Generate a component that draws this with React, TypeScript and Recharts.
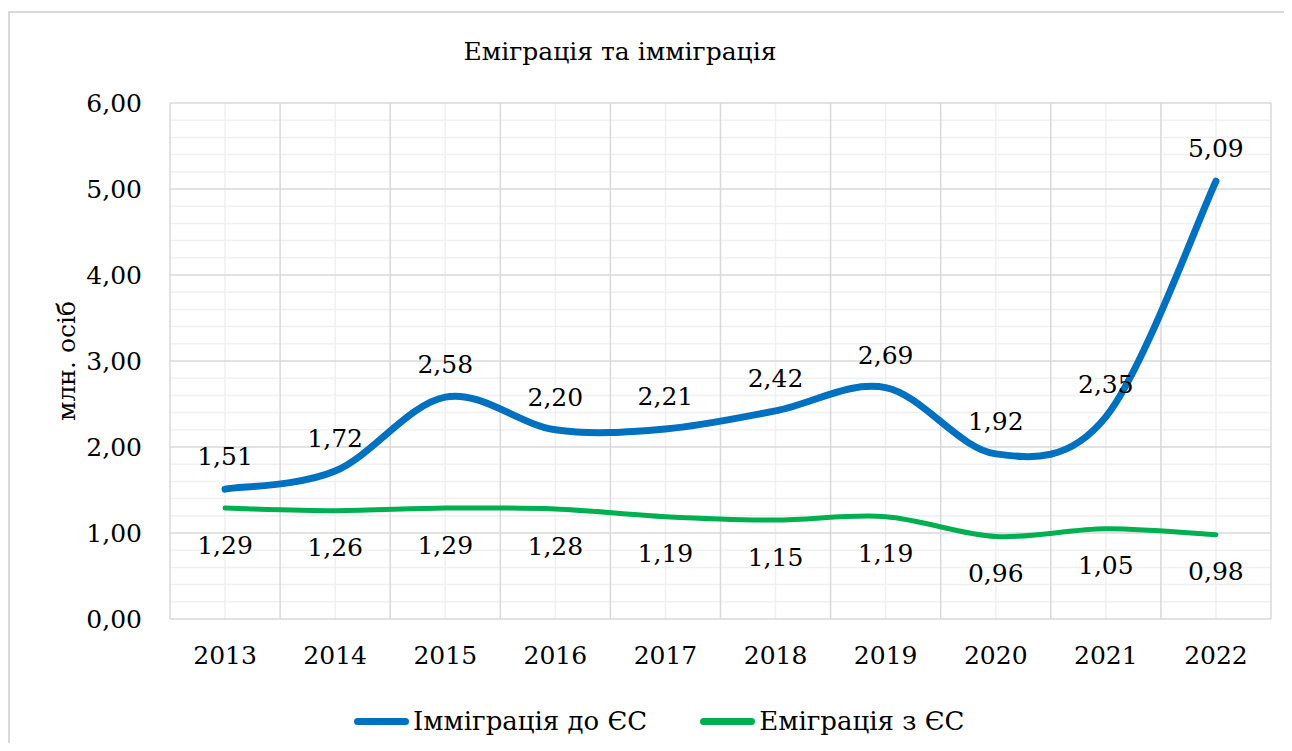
import React from 'react';
import { LineChart, Line, XAxis, YAxis, ReferenceLine, LabelList, Legend } from 'recharts';

const years = ['2013', '2014', '2015', '2016', '2017', '2018', '2019', '2020', '2021', '2022'];
const immigration = [1.51, 1.72, 2.58, 2.2, 2.21, 2.42, 2.69, 1.92, 2.35, 5.09];
const emigration = [1.29, 1.26, 1.29, 1.28, 1.19, 1.15, 1.19, 0.96, 1.05, 0.98];
const yTicks = [0, 1, 2, 3, 4, 5, 6];
const yMinorTicks = [0.2, 0.4, 0.6, 0.8, 1.2, 1.4, 1.6, 1.8, 2.2, 2.4, 2.6, 2.8, 3.2, 3.4, 3.6, 3.8, 4.2, 4.4, 4.6, 4.8, 5.2, 5.4, 5.6, 5.8];
const xCenters = years.map((_, i) => i);
const xBounds = [-0.5, 0.5, 1.5, 2.5, 3.5, 4.5, 5.5, 6.5, 7.5, 8.5, 9.5];

const data = years.map((y, i) => ({ i, year: y, imm: immigration[i], emi: emigration[i] }));

const FONT = 'DejaVu Serif';
const FS = 25;
const fmt = (v: any) => Number(v).toFixed(2).replace('.', ',');

const excelCurve = (context: any) => {
  let pts: number[][] = [];
  return {
    areaStart() {},
    areaEnd() {},
    lineStart() { pts = []; },
    point(x: number, y: number) { pts.push([+x, +y]); },
    lineEnd() {
      const n = pts.length;
      if (n === 0) return;
      context.moveTo(pts[0][0], pts[0][1]);
      if (n === 1) return;
      for (let k = 0; k < n - 1; k++) {
        const p0 = pts[Math.max(0, k - 1)];
        const p1 = pts[k];
        const p2 = pts[k + 1];
        const p3 = pts[Math.min(n - 1, k + 2)];
        const c1x = p1[0] + (p2[0] - p0[0]) / 6;
        const c1y = p1[1] + (p2[1] - p0[1]) / 6;
        const c2x = p2[0] - (p3[0] - p1[0]) / 6;
        const c2y = p2[1] - (p3[1] - p1[1]) / 6;
        context.bezierCurveTo(c1x, c1y, c2x, c2y, p2[0], p2[1]);
      }
    },
  };
};

const YLabel = (props: any) => {
  const vb = props.viewBox || { x: 0, y: 95, width: 162, height: 516 };
  const cx = vb.x + 58;
  const cy = vb.y + vb.height / 2;
  return (
    <text x={cx} y={cy} transform={`rotate(-90 ${cx} ${cy})`} textAnchor="middle" dominantBaseline="central"
      style={{ fontFamily: FONT }} fontSize={FS} fill="#000">млн. осіб</text>
  );
};

const LegendContent = (props: any) => {
  const payload = props.payload || [];
  return (
    <div style={{ height: 40, position: 'relative', fontFamily: FONT, fontSize: 26, color: '#000' }}>
      <div style={{ position: 'absolute', left: 346, top: 0, height: 40, display: 'flex', alignItems: 'center' }}>
        {payload.map((p: any, idx: number) => (
          <div key={idx} style={{ display: 'flex', alignItems: 'center', marginRight: idx === 0 ? 53 : 0 }}>
            <div style={{ width: 55, height: 7, borderRadius: 4, background: p.color, marginRight: 4 }} />
            <span style={{ lineHeight: '40px' }}>{p.value}</span>
          </div>
        ))}
      </div>
    </div>
  );
};

export default function App() {
  return (
    <div style={{ position: 'relative', width: 1276, height: 735 }}>
      <div style={{ position: 'absolute', left: 0, top: 3, width: 1290, height: 740, borderTop: '2px solid #d9d9d9', borderLeft: '2px solid #d9d9d9', boxSizing: 'border-box' }} />
      <div style={{ position: 'absolute', left: 0, width: 1224, top: 28, textAlign: 'center', fontFamily: FONT, fontSize: 25, lineHeight: '32px', color: '#000' }}>
        Еміграція та імміграція
      </div>
      <LineChart width={1276} height={735} data={data} margin={{ top: 95, right: 13, left: 0, bottom: 2 }}>
        <XAxis dataKey="i" type="number" domain={[-0.5, 9.5]} ticks={xCenters} tickFormatter={(v: any) => years[v]}
          axisLine={false} tickLine={false} tickSize={0} tickMargin={27} height={82} interval={0}
          tick={{ fill: '#000', fontSize: FS, style: { fontFamily: FONT } }} allowDataOverflow />
        <YAxis type="number" domain={[0, 6]} ticks={yTicks} tickFormatter={fmt} width={162}
          axisLine={false} tickLine={false} tickSize={0} tickMargin={28} interval={0}
          tick={{ fill: '#000', fontSize: FS, style: { fontFamily: FONT } }} label={<YLabel />} />
        {yMinorTicks.map((v) => (
          <ReferenceLine key={'ym' + v} y={v} stroke="#f0f0f0" strokeWidth={1.5} zIndex={-50} />
        ))}
        {xCenters.map((v) => (
          <ReferenceLine key={'xm' + v} x={v} stroke="#f0f0f0" strokeWidth={1.5} zIndex={-50} />
        ))}
        {yTicks.map((v) => (
          <ReferenceLine key={'yM' + v} y={v} stroke="#d9d9d9" strokeWidth={1.5} zIndex={-40} />
        ))}
        {xBounds.map((v) => (
          <ReferenceLine key={'xM' + v} x={v} stroke="#d9d9d9" strokeWidth={1.5} zIndex={-40} />
        ))}
        <Legend verticalAlign="bottom" content={<LegendContent />} wrapperStyle={{ left: 0, width: 1276, bottom: 2 }} />
        <Line dataKey="imm" name="Імміграція до ЄС" type={excelCurve as any} stroke="#0070C0" strokeWidth={7}
          strokeLinecap="round" dot={false} activeDot={false} isAnimationActive={false}>
          <LabelList dataKey="imm" position="top" offset={24} formatter={fmt} fill="#000" fontSize={FS} style={{ fontFamily: FONT }} />
        </Line>
        <Line dataKey="emi" name="Еміграція з ЄС" type={excelCurve as any} stroke="#00B050" strokeWidth={5}
          strokeLinecap="round" dot={false} activeDot={false} isAnimationActive={false}>
          <LabelList dataKey="emi" position="bottom" offset={28} formatter={fmt} fill="#000" fontSize={FS} style={{ fontFamily: FONT }} />
        </Line>
      </LineChart>
    </div>
  );
}
